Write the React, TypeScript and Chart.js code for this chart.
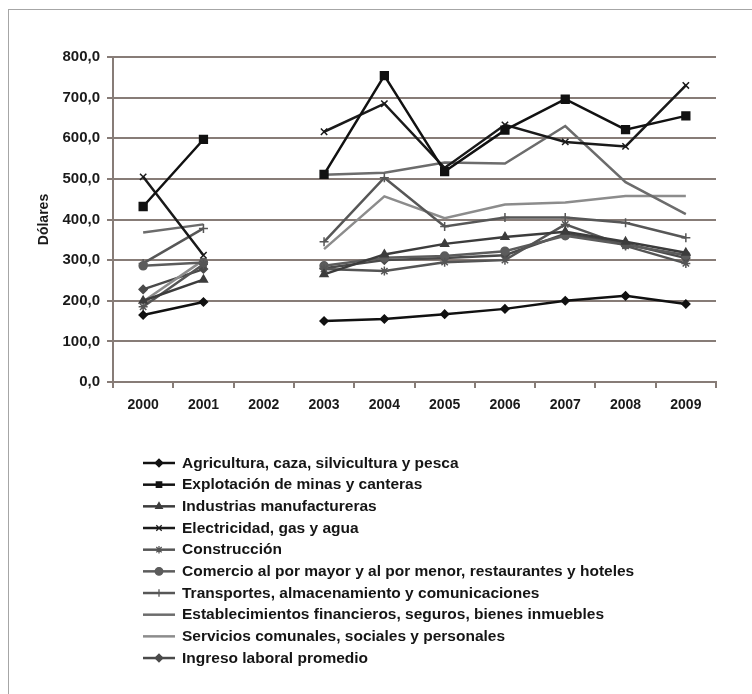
import React, { useEffect, useRef } from 'react';
import { Chart, registerables } from 'chart.js';
import { drawPoint } from 'chart.js/helpers';

Chart.register(...registerables);

const years = ['2000', '2001', '2002', '2003', '2004', '2005', '2006', '2007', '2008', '2009'];

const agricultura = [165, 197, null, 150, 155, 167, 180, 200, 212, 192];
const minas = [432, 597, null, 511, 754, 518, 620, 696, 621, 655];
const industrias = [200, 252, null, 265, 314, 340, 357, 370, 345, 318];
const electricidad = [505, 312, null, 616, 685, 527, 633, 591, 580, 730];
const construccion = [185, 290, null, 278, 273, 295, 300, 388, 335, 292];
const comercio = [286, 294, null, 286, 306, 310, 322, 360, 338, 312];
const transportes = [292, 378, null, 345, 503, 383, 405, 405, 392, 355];
const financieros = [368, 388, null, 510, 515, 540, 538, 630, 492, 413];
const servicios = [198, 300, null, 327, 457, 403, 437, 442, 458, 458];
const ingreso = [228, 278, null, 280, 300, 305, 312, 365, 341, 305];

const seriesLabels = [
  'Agricultura, caza, silvicultura y pesca',
  'Explotación de minas y canteras',
  'Industrias manufactureras',
  'Electricidad, gas y agua',
  'Construcción',
  'Comercio al por mayor y al por menor, restaurantes y hoteles',
  'Transportes, almacenamiento y comunicaciones',
  'Establecimientos financieros, seguros, bienes inmuebles',
  'Servicios comunales, sociales y personales',
  'Ingreso laboral promedio',
];
const seriesData = [agricultura, minas, industrias, electricidad, construccion, comercio, transportes, financieros, servicios, ingreso];
const seriesColors = ['#111111', '#111111', '#3c3c3c', '#1a1a1a', '#555555', '#5c5c5c', '#575757', '#6c6c6c', '#8c8c8c', '#4a4a4a'];
const seriesMarkers: any[] = ['rectRot', 'rect', 'triangle', 'crossRot', 'star', 'circle', 'cross', false, false, 'rectRot'];
const seriesRadius = [4, 5.5, 4.5, 4.5, 4.5, 4, 4.5, 0, 0, 4];

const FONT = "'Liberation Sans', Arial, sans-serif";
const GRID = '#877c77';

const legendPlugin = {
  id: 'customLegend',
  afterDraw(chart: any) {
    const ctx = chart.ctx;
    ctx.save();
    chart.data.datasets.forEach((ds: any, i: number) => {
      const y = 463 + i * 21.67;
      ctx.strokeStyle = ds.borderColor;
      ctx.fillStyle = ds.borderColor;
      ctx.lineWidth = 2.5;
      ctx.beginPath();
      ctx.moveTo(143, y);
      ctx.lineTo(175, y);
      ctx.stroke();
      if (ds.pointStyle) {
        ctx.lineWidth = 1.3;
        drawPoint(ctx, { pointStyle: ds.pointStyle, rotation: 0, radius: Math.min(ds.pointRadius, 3.8), borderWidth: 1.3 }, 159, y);
      }
      ctx.fillStyle = '#151515';
      ctx.font = `bold 15.5px ${FONT}`;
      ctx.textBaseline = 'middle';
      ctx.textAlign = 'left';
      ctx.fillText(ds.label, 182, y + 0.5);
    });
    ctx.restore();
  },
};

export default function App() {
  const ref = useRef<HTMLCanvasElement>(null);
  useEffect(() => {
    if (!ref.current) return;
    const chart = new Chart(ref.current, {
      type: 'line',
      data: {
        labels: years,
        datasets: seriesData.map((d, i) => ({
          label: seriesLabels[i],
          data: d,
          borderColor: seriesColors[i],
          backgroundColor: seriesColors[i],
          pointBackgroundColor: seriesColors[i],
          pointBorderColor: seriesColors[i],
          borderWidth: 2.5,
          pointStyle: seriesMarkers[i],
          pointRadius: seriesRadius[i],
          pointBorderWidth: 1.5,
          tension: 0,
          spanGaps: false,
        })),
      },
      options: {
        animation: false,
        responsive: false,
        layout: { padding: { left: 36, top: 57, right: 36, bottom: 272 } },
        plugins: { legend: { display: false }, tooltip: { enabled: false } },
        scales: {
          x: {
            offset: true,
            grid: { offset: true, drawOnChartArea: false, tickLength: 6, color: GRID, lineWidth: 2 },
            border: { color: GRID, width: 2 },
            ticks: { font: { family: FONT, size: 14, weight: 'bold' }, color: '#1a1a1a', padding: 9, maxRotation: 0 },
            afterFit: (s: any) => { s.height = 40; },
          },
          y: {
            min: 0,
            max: 800,
            ticks: {
              stepSize: 100,
              font: { family: FONT, size: 15, weight: 'bold' },
              color: '#1a1a1a',
              padding: 7,
              callback: (v: any) => Number(v).toFixed(1).replace('.', ','),
            },
            grid: { color: GRID, lineWidth: 2, tickLength: 6 },
            border: { color: GRID, width: 2 },
            title: { display: true, text: 'Dólares', font: { family: FONT, size: 14, weight: 'bold' }, color: '#1a1a1a', padding: 0 },
            afterFit: (s: any) => { s.width = 77; },
          },
        },
      },
      plugins: [legendPlugin],
    });
    return () => chart.destroy();
  }, []);
  return (
    <div style={{ position: 'fixed', left: 0, top: 0, width: 752, height: 694, background: '#fff' }}>
      <div style={{ position: 'absolute', left: 8, top: 9, right: -20, bottom: -20, borderTop: '1.5px solid #a6a6a6', borderLeft: '1.5px solid #a6a6a6' }} />
      <canvas ref={ref} width={752} height={694} style={{ position: 'absolute', left: 0, top: 0, width: 752, height: 694 }} />
    </div>
  );
}
